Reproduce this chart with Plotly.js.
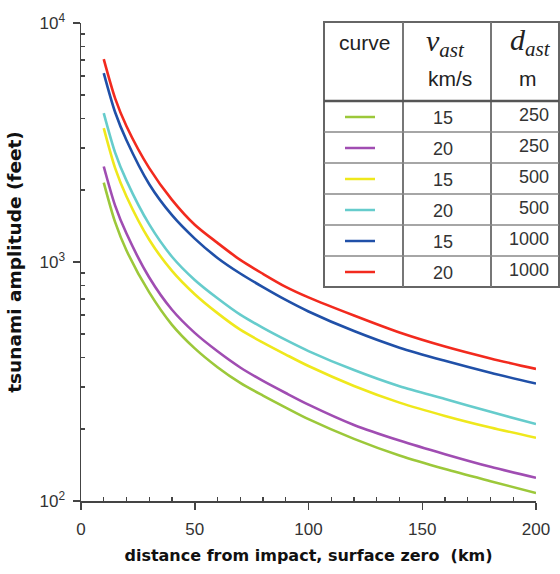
<!DOCTYPE html>
<html>
<head>
<meta charset="utf-8">
<script src="https://cdn.plot.ly/plotly-3.0.1.min.js"></script>
<style>html,body{margin:0;padding:0;background:#fff;}#chart{width:560px;height:574px;}</style>
</head>
<body>
<div id="chart"></div>
<script>
// ---- data ----
const distanceKm = [10, 15, 20, 30, 40, 50, 60, 70, 80, 90, 100, 120, 140, 160, 180, 200];
const ampV15D250  = [2150, 1468, 1117, 746, 546, 435, 363, 312, 276, 246, 220, 182, 155, 136, 121, 108];
const ampV20D250  = [2510, 1722, 1315, 861, 631, 505, 423, 362, 318, 283, 253, 208, 179, 157, 139, 125];
const ampV15D500  = [3630, 2470, 1880, 1239, 918, 733, 611, 521, 460, 410, 367, 303, 258, 227, 203, 184];
const ampV20D500  = [4200, 2870, 2190, 1436, 1052, 841, 705, 602, 530, 472, 424, 353, 302, 267, 236, 210];
const ampV15D1000 = [6170, 4230, 3230, 2115, 1570, 1253, 1040, 895, 785, 694, 621, 514, 438, 386, 344, 310];
const ampV20D1000 = [7060, 4840, 3700, 2470, 1820, 1432, 1202, 1020, 892, 787, 711, 597, 507, 443, 395, 357];

const velocities = ['15', '20', '15', '20', '15', '20'];
const diameters  = ['250', '250', '500', '500', '1000', '1000'];
const seriesList = [ampV15D250, ampV20D250, ampV15D500, ampV20D500, ampV15D1000, ampV20D1000];
const colors = ['#9cc83a', '#a04db2', '#efe81c', '#66cccc', '#2050a8', '#f22a1e'];

const xTickVals = [0, 50, 100, 150, 200];
const xTickText = ['0', '50', '100', '150', '200'];
const xMinorVals = [10,20,30,40,60,70,80,90,110,120,130,140,160,170,180,190];
const yTickVals = [100, 1000, 10000];
const yTickText = ['10<sup>2</sup>', '10<sup>3</sup>', '10<sup>4</sup>'];
const yMinorVals = [200,300,400,500,600,700,800,900,2000,3000,4000,5000,6000,7000,8000,9000];

// ---- geometry helpers (pixel -> paper) ----
const L = 81, R = 536, T = 23, B = 501;
const px = v => (v - L) / (R - L);
const py = v => (B - v) / (B - T);

const traces = seriesList.map((s, i) => ({
  type: 'scatter', mode: 'lines', x: distanceKm, y: s,
  line: {color: colors[i], width: 2.6, shape: 'spline', smoothing: 0.8},
  showlegend: false, hoverinfo: 'skip'
}));

const sans = 'Liberation Sans, Arial, sans-serif';
const mkFont = (size, color) => ({family: sans, size: size, color: color});

// ---- table (legend) ----
const shapes = [];
const annotations = [];
const tL = 324, tR = 559, tT = 22, tB = 287;
const col1 = 403, col2 = 491;
const rowLines = [101, 132, 163, 194, 225, 256];
const rowCenters = [117, 148, 179, 210, 241, 272];
shapes.push({type: 'rect', xref: 'paper', yref: 'paper', x0: px(tL), x1: px(tR), y0: py(tB), y1: py(tT),
  fillcolor: '#ffffff', line: {color: '#666', width: 2}, layer: 'above'});
[col1, col2].forEach(c => shapes.push({type: 'line', xref: 'paper', yref: 'paper', x0: px(c), x1: px(c),
  y0: py(tB), y1: py(tT), line: {color: '#777', width: 2}, layer: 'above'}));
rowLines.forEach((r, i) => shapes.push({type: 'line', xref: 'paper', yref: 'paper', x0: px(tL), x1: px(tR),
  y0: py(r), y1: py(r), line: {color: i === 0 ? '#555' : '#888', width: i === 0 ? 2.5 : 1.5}, layer: 'above'}));
rowCenters.forEach((yc, i) => {
  shapes.push({type: 'line', xref: 'paper', yref: 'paper', x0: px(345), x1: px(375), y0: py(yc), y1: py(yc),
    line: {color: colors[i], width: 2.5}, layer: 'above'});
  annotations.push({xref: 'paper', yref: 'paper', x: px(443), y: py(yc + 1), text: velocities[i], showarrow: false,
    xanchor: 'center', yanchor: 'middle', font: mkFont(18, '#333')});
  annotations.push({xref: 'paper', yref: 'paper', x: px(551), y: py(yc - 2), text: diameters[i], showarrow: false,
    xanchor: 'right', yanchor: 'middle', font: mkFont(18, '#333')});
});
annotations.push({xref: 'paper', yref: 'paper', x: px(364), y: py(42), text: 'curve', showarrow: false,
  xanchor: 'center', yanchor: 'middle', font: mkFont(21, '#222')});
annotations.push({xref: 'paper', yref: 'paper', x: px(445), y: py(43), text: '<i>ν</i><sub><i>ast</i></sub>', showarrow: false,
  xanchor: 'center', yanchor: 'middle', font: {family: 'Liberation Serif, Times New Roman, serif', size: 30, color: '#222'}});
annotations.push({xref: 'paper', yref: 'paper', x: px(530), y: py(42), text: '<i>d</i><sub><i>ast</i></sub>', showarrow: false,
  xanchor: 'center', yanchor: 'middle', font: {family: 'Liberation Serif, Times New Roman, serif', size: 30, color: '#222'}});
annotations.push({xref: 'paper', yref: 'paper', x: px(450), y: py(78), text: 'km/s', showarrow: false,
  xanchor: 'center', yanchor: 'middle', font: mkFont(21, '#222')});
annotations.push({xref: 'paper', yref: 'paper', x: px(528), y: py(78), text: 'm', showarrow: false,
  xanchor: 'center', yanchor: 'middle', font: mkFont(21, '#222')});

const layout = {
  width: 560, height: 574,
  margin: {l: L, r: 560 - R, t: T, b: 574 - B},
  paper_bgcolor: '#fff', plot_bgcolor: '#fff',
  showlegend: false,
  xaxis: {
    range: [0, 200], showgrid: false, zeroline: false,
    showline: true, linecolor: '#444', linewidth: 1.5,
    tickmode: 'array', tickvals: xTickVals, ticktext: xTickText,
    ticks: 'outside', ticklen: 7, tickwidth: 1.5, tickcolor: '#444',
    minor: {tickmode: 'array', tickvals: xMinorVals, ticks: 'inside', ticklen: 4, tickwidth: 1.2, tickcolor: '#444'},
    tickfont: mkFont(17, '#333'), ticklabelstandoff: 5,
    title: {text: 'distance from impact, surface zero  (km)',
      font: {family: 'DejaVu Sans, Verdana, sans-serif', size: 16, color: '#111', weight: 'bold'}, standoff: 12}
  },
  yaxis: {
    type: 'log', range: [2, 4], showgrid: false, zeroline: false,
    showline: true, linecolor: '#444', linewidth: 1.5,
    tickmode: 'array', tickvals: yTickVals, ticktext: yTickText,
    ticks: 'outside', ticklen: 7, tickwidth: 1.5, tickcolor: '#444',
    minor: {tickmode: 'array', tickvals: yMinorVals, ticks: 'inside', ticklen: 4, tickwidth: 1.2, tickcolor: '#444'},
    tickfont: mkFont(17, '#333'), ticklabelstandoff: 4,
    title: {text: 'tsunami amplitude (feet)',
      font: {family: 'DejaVu Sans, Verdana, sans-serif', size: 18.5, color: '#111', weight: 'bold'}, standoff: 13}
  },
  xaxis2: {
    overlaying: 'x', anchor: 'y', range: [0, 200], showgrid: false, zeroline: false, showline: false,
    tickmode: 'array', tickvals: xTickVals, showticklabels: false,
    ticks: 'inside', ticklen: 4, tickwidth: 1.5, tickcolor: '#444'
  },
  yaxis2: {
    overlaying: 'y', anchor: 'x', type: 'log', range: [2, 4], showgrid: false, zeroline: false, showline: false,
    tickmode: 'array', tickvals: yTickVals, showticklabels: false,
    ticks: 'inside', ticklen: 4, tickwidth: 1.5, tickcolor: '#444'
  },
  shapes: shapes,
  annotations: annotations
};

Plotly.newPlot('chart', traces, layout, {staticPlot: true, displayModeBar: false});
</script>
</body>
</html>
